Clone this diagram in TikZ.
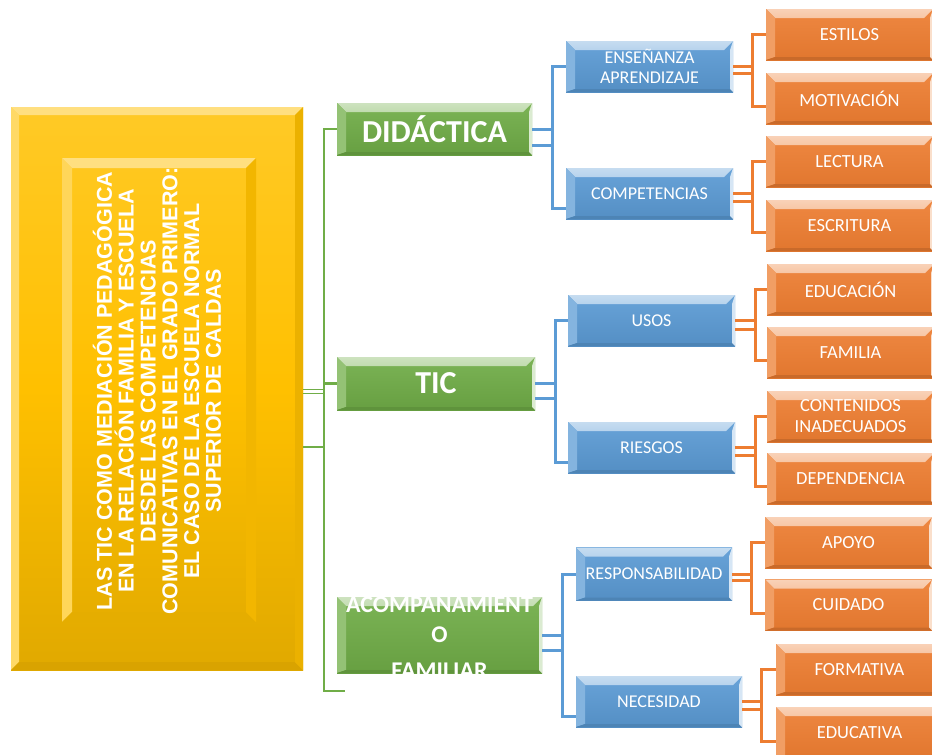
\documentclass[tikz,border=0pt]{standalone}
\usepackage{fontspec}
\setmainfont{Carlito}
\newfontfamily\titlefont{Liberation Sans}
\definecolor{gr}{HTML}{70AD47}
\definecolor{bl}{HTML}{5B9BD5}
\definecolor{og}{HTML}{ED7D31}
\definecolor{yl}{HTML}{FFC000}
\tikzset{
  bevpic/.style={path picture={
    \shade[top color=#1!35!white, bottom color=#1!85!white]
      (path picture bounding box.north west) -- (path picture bounding box.north east)
      -- ([shift={(-9pt,-9pt)}]path picture bounding box.north east)
      -- ([shift={(9pt,-9pt)}]path picture bounding box.north west) -- cycle;
    \fill[#1!75!white]
      (path picture bounding box.north west) -- ([shift={(9pt,-9pt)}]path picture bounding box.north west)
      -- ([shift={(9pt,3pt)}]path picture bounding box.south west) -- (path picture bounding box.south west) -- cycle;
    \fill[#1!85!black]
      (path picture bounding box.south west) -- ([shift={(9pt,3pt)}]path picture bounding box.south west)
      -- ([shift={(-3pt,3pt)}]path picture bounding box.south east) -- (path picture bounding box.south east) -- cycle;
    \fill[#1!25!white]
      (path picture bounding box.north east) -- ([shift={(-3pt,-9pt)}]path picture bounding box.north east)
      -- ([shift={(-3pt,3pt)}]path picture bounding box.south east) -- (path picture bounding box.south east) -- cycle;
  }},
  obox/.style={rectangle, inner sep=0pt, minimum width=167pt, minimum height=51pt,
    top color=og!92!white, bottom color=og!95!black, bevpic=og, text=white,
    font=\fontsize{18.5}{21}\selectfont, align=center},
  bbox/.style={rectangle, inner sep=0pt, minimum width=167pt, minimum height=51pt,
    top color=bl!92!white, bottom color=bl!92!black, bevpic=bl, text=white,
    font=\fontsize{18}{20}\selectfont, align=center},
  gbox/.style={rectangle, inner sep=0pt, top color=gr!92!white, bottom color=gr!92!black,
    bevpic=gr, text=white, font=\bfseries\fontsize{32}{34}\selectfont, align=center},
  gtext/.style={inner sep=0pt, text=white, font=\bfseries\fontsize{24}{30}\selectfont, align=center},
  gline/.style={draw=gr, line width=2.5pt},
  gthin/.style={draw=gr, line width=1.6pt},
  bline/.style={draw=bl, line width=3pt},
  oline/.style={draw=og, line width=3pt},
}
\newcommand{\treefork}[7]{%
  \draw[#1] (#3.west) -- ++(-#7,0) coordinate (#2t) |- ([yshift=-#6]#4.west);
  \coordinate (#2a) at (#2.east);
  \coordinate (#2b) at ([yshift=-#5]#2.east);
  \draw[#1] (#2a) -- (#2a -| #2t);
  \draw[#1] (#2b) -- (#2b -| #2t);
}
\begin{document}
\begin{tikzpicture}[x=1pt, y=-1pt]
\useasboundingbox (0,0) rectangle (932,755);
\fill[white] (0,0) rectangle (932,755);

% main yellow box
\node[rectangle, inner sep=0pt, minimum width=292pt, minimum height=563pt,
  top color=yl!85!white, bottom color=yl!88!black, middle color=yl,
  path picture={
    \fill[yl!50!white] (path picture bounding box.north west) -- (path picture bounding box.north east)
      -- ([shift={(-8pt,-8pt)}]path picture bounding box.north east) -- ([shift={(8pt,-8pt)}]path picture bounding box.north west) -- cycle;
    \fill[yl!60!white] (path picture bounding box.north west) -- ([shift={(8pt,-8pt)}]path picture bounding box.north west)
      -- ([shift={(8pt,8pt)}]path picture bounding box.south west) -- (path picture bounding box.south west) -- cycle;
    \fill[yl!85!black] (path picture bounding box.south west) -- ([shift={(8pt,8pt)}]path picture bounding box.south west)
      -- ([shift={(-8pt,8pt)}]path picture bounding box.south east) -- (path picture bounding box.south east) -- cycle;
    \fill[yl!92!black] (path picture bounding box.north east) -- ([shift={(-8pt,-8pt)}]path picture bounding box.north east)
      -- ([shift={(-8pt,8pt)}]path picture bounding box.south east) -- (path picture bounding box.south east) -- cycle;
  }] (main) at (157,388.5) {};
\node[rectangle, inner sep=0pt, minimum width=194pt, minimum height=464pt,
  path picture={
    \fill[yl!50!white] (path picture bounding box.north west) -- (path picture bounding box.north east)
      -- ([shift={(-10pt,-10pt)}]path picture bounding box.north east) -- ([shift={(10pt,-10pt)}]path picture bounding box.north west) -- cycle;
    \fill[yl!65!white] (path picture bounding box.north west) -- ([shift={(10pt,-10pt)}]path picture bounding box.north west)
      -- ([shift={(10pt,10pt)}]path picture bounding box.south west) -- (path picture bounding box.south west) -- cycle;
    \fill[yl!90!black] (path picture bounding box.south west) -- ([shift={(10pt,10pt)}]path picture bounding box.south west)
      -- ([shift={(-10pt,10pt)}]path picture bounding box.south east) -- (path picture bounding box.south east) -- cycle;
    \fill[yl!95!black] (path picture bounding box.north east) -- ([shift={(-10pt,-10pt)}]path picture bounding box.north east)
      -- ([shift={(-10pt,10pt)}]path picture bounding box.south east) -- (path picture bounding box.south east) -- cycle;
  }] (inner) at (159,390) {};
\node[rotate=90, inner sep=0pt, text=white, align=center,
  font=\titlefont\bfseries\fontsize{21.5}{21.8}\selectfont] (title) at (157,391)
  {LAS TIC COMO MEDIACIÓN PEDAGÓGICA\\EN LA RELACIÓN FAMILIA Y ESCUELA\\DESDE LAS COMPETENCIAS\\COMUNICATIVAS EN EL GRADO PRIMERO:\\EL CASO DE LA ESCUELA NORMAL\\SUPERIOR DE CALDAS};

% green level
\node[gbox, minimum width=195pt, minimum height=52pt] (did) at (434.5,129) {DIDÁCTICA};
\node[gbox, minimum width=198pt, minimum height=53pt] (tic) at (436,383.5) {TIC};
\node[gbox, minimum width=205pt, minimum height=76pt] (aco) at (439.5,635) {};
\node[gtext] (acot) at (439.5,636) {ACOMPAÑAMIENT\\O\\[6pt]FAMILIAR};

% blue level
\node[bbox] (ens) at (649.5,66.5) {ENSEÑANZA\\APRENDIZAJE};
\node[bbox] (com) at (649.5,193.5) {COMPETENCIAS};
\node[bbox] (usos) at (651.5,320.5) {USOS};
\node[bbox] (ries) at (651.5,447.5) {RIESGOS};
\node[bbox, minimum width=156pt, minimum height=53pt] (resp) at (654,574) {RESPONSABILIDAD};
\node[bbox, minimum width=166pt] (nec) at (659,701.5) {NECESIDAD};

% orange level
\node[obox] (estilos) at (849.5,34.5) {ESTILOS};
\node[obox] (motiv) at (849.5,98.5) {MOTIVACIÓN};
\node[obox] (lect) at (849.5,161.5) {LECTURA};
\node[obox] (escr) at (849.5,225.5) {ESCRITURA};
\node[obox] (edu) at (850.5,289.5) {EDUCACIÓN};
\node[obox] (fam) at (850.5,352.5) {FAMILIA};
\node[obox] (cont) at (850.5,416.5) {CONTENIDOS\\INADECUADOS};
\node[obox] (dep) at (850.5,478.5) {DEPENDENCIA};
\node[obox] (apoyo) at (848.5,542.5) {APOYO};
\node[obox] (cuid) at (848.5,605) {CUIDADO};
\node[obox] (form) at (859.5,669.5) {FORMATIVA};
\node[obox] (educ) at (859.5,732.5) {EDUCATIVA};

% green connectors
\coordinate (gend) at (345,691);
\draw[gline] (did.west) -- ++(-13,0) coordinate (gx) |- (gend);
\draw[gline] (tic.west) -- (tic.west -| gx);
\coordinate (m1) at ([yshift=-1pt]main.east);
\coordinate (m2) at ([yshift=-5pt]main.east);
\coordinate (m3) at ([yshift=-58.5pt]main.east);
\draw[gthin] (m1) -- (m1 -| gx);
\draw[gthin] (m2) -- (m2 -| gx);
\draw[gline] (m3) -- (m3 -| gx);

% blue connectors
\treefork{bline}{did}{ens}{com}{16pt}{14.5pt}{13}
\treefork{bline}{tic}{usos}{ries}{14.5pt}{14.5pt}{12}
\treefork{bline}{aco}{resp}{nec}{15pt}{14.5pt}{13}

% orange connectors
\treefork{oline}{ens}{estilos}{motiv}{7pt}{7.5pt}{13}
\treefork{oline}{com}{lect}{escr}{7.5pt}{6.5pt}{13}
\treefork{oline}{usos}{edu}{fam}{8.5pt}{7.5pt}{11}
\treefork{oline}{ries}{cont}{dep}{8pt}{7.5pt}{11}
\treefork{oline}{resp}{apoyo}{cuid}{6.5pt}{8.5pt}{13}
\treefork{oline}{nec}{form}{educ}{8pt}{8.5pt}{14}
\end{tikzpicture}
\end{document}
